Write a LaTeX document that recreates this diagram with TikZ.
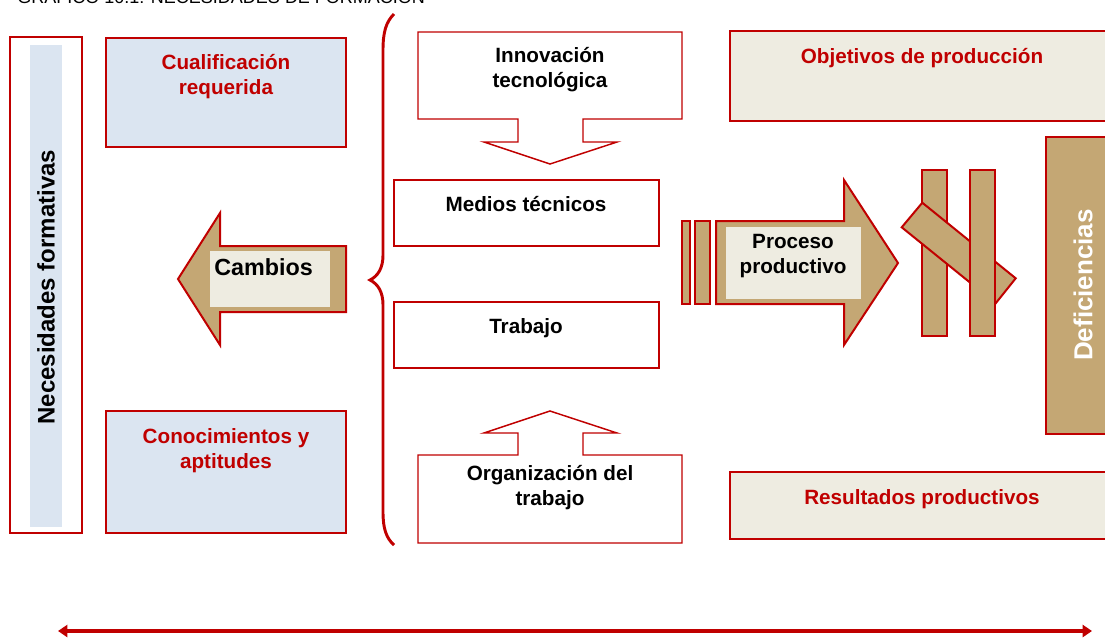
\documentclass[tikz,border=0pt]{standalone}
\usepackage{fontspec}
\setmainfont{Liberation Sans}
\usetikzlibrary{arrows.meta, fit}
\definecolor{bRed}{HTML}{C00000}
\definecolor{cBlue}{HTML}{DBE5F1}
\definecolor{cBeige}{HTML}{EEECE1}
\definecolor{cTan}{HTML}{C4A774}
\tikzset{
  box/.style={draw=bRed, line width=1.5pt, inner sep=0pt},
  bluebox/.style={box, fill=cBlue},
  beigebox/.style={box, fill=cBeige},
  whitebox/.style={box, fill=white, line width=1.1pt},
  tanshape/.style={fill=cTan, draw=bRed, line width=1.5pt},
  callout/.style={fill=white, draw=bRed, line width=1.1pt},
  redlbl/.style={font=\fontsize{15.5}{18.75}\selectfont\bfseries, text=bRed, align=center, inner sep=0pt},
  blklbl/.style={font=\fontsize{15.5}{18.75}\selectfont\bfseries, align=center, inner sep=0pt},
  sidelbl/.style={font=\fontsize{18}{20}\selectfont\bfseries, rotate=90, inner sep=0pt},
  arr/.style={{Triangle[length=7pt,width=9pt]}-{Triangle[length=7pt,width=9pt]}, draw=bRed, line width=3pt},
}

\begin{document}
\begin{tikzpicture}[x=0.75pt, y=-0.75pt]
\useasboundingbox (0,0) rectangle (1105,637);

% Caption (cut at the top)
\node[anchor=base west, inner sep=0pt, font=\fontsize{13.5}{15}\selectfont] (title) at (17,3)
  {GRÁFICO 10.1: NECESIDADES DE FORMACIÓN};

% Left column
\node[box, fill=white, fit={(10,37) (82,533)}] (nec) {};
\node[fill=cBlue, inner sep=0pt, fit={(30,45) (62,527)}] (necbg) {};
\node[sidelbl] (necT) at (46,287) {Necesidades formativas};

\node[bluebox, fit={(106,38) (346,147)}] (cual) {};
\node[redlbl, anchor=base] (cualT) at (226,94) {Cualificación\\requerida};
\node[bluebox, fit={(106,411) (346,533)}] (cono) {};
\node[redlbl, anchor=base] (conoT) at (226,468) {Conocimientos y\\aptitudes};

% Cambios arrow
\draw[tanshape] (178,279) -- (220,213) -- (220,246) -- (346,246) -- (346,312)
  -- (220,312) -- (220,345) -- cycle;
\node[fill=cBeige, inner sep=0pt, fit={(210,251) (330,307)}] (cambbg) {};
\node[anchor=base west, inner sep=0pt, font=\fontsize{17.5}{20}\selectfont\bfseries] (cambT) at (214,275) {Cambios};

% Brace
\draw[bRed, line width=2.2pt] (394,14) .. controls (386,22) and (383,32) .. (383,50)
  -- (383,255) .. controls (383,268) and (378,276) .. (370,280)
  .. controls (378,284) and (383,292) .. (383,305)
  -- (383,512) .. controls (383,528) and (386,538) .. (394,545);

% Middle column
\draw[callout] (418,32) -- (682,32) -- (682,119) -- (583,119) -- (583,142) -- (617,142)
  -- (550,164) -- (484,142) -- (518,142) -- (518,119) -- (418,119) -- cycle;
\node[blklbl, anchor=base] (innoT) at (550,87) {Innovación\\tecnológica};

\node[whitebox, fit={(394,180) (659,246)}] (medi) {};
\node[blklbl, anchor=base] (mediT) at (526,211) {Medios técnicos};

\node[whitebox, fit={(394,302) (659,368)}] (trab) {};
\node[blklbl, anchor=base] (trabT) at (526,333) {Trabajo};

\draw[callout] (418,543) -- (682,543) -- (682,455) -- (583,455) -- (583,433) -- (617,433)
  -- (550,411) -- (484,433) -- (518,433) -- (518,455) -- (418,455) -- cycle;
\node[blklbl, anchor=base] (orgaT) at (550,505) {Organización del\\trabajo};

% Right column
\node[beigebox, fit={(730,31) (1115,121)}] (obje) {};
\node[redlbl, anchor=base] (objeT) at (922,63) {Objetivos de producción};
\node[beigebox, fit={(730,472) (1115,539)}] (resu) {};
\node[redlbl, anchor=base] (resuT) at (922,504) {Resultados productivos};

% Proceso productivo arrow
\node[tanshape, inner sep=0pt, fit={(682,221) (690,304)}] (bar1) {};
\node[tanshape, inner sep=0pt, fit={(695,221) (710,304)}] (bar2) {};
\draw[tanshape] (716,221) -- (844,221) -- (844,180) -- (898,263) -- (844,345)
  -- (844,304) -- (716,304) -- cycle;
\node[fill=cBeige, inner sep=0pt, fit={(726,227) (861,299)}] (procbg) {};
\node[blklbl, anchor=base] (procT) at (793,273) {Proceso\\productivo};

% Blocked path
\node[tanshape, inner sep=0pt, fit={(922,170) (947,336)}] (stopA) {};
\draw[tanshape] (922.3,202.7) -- (1015.7,278.3) -- (995.7,303.3) -- (901.7,227.3) -- cycle;
\node[tanshape, inner sep=0pt, fit={(970,170) (995,336)}] (stopB) {};

\node[tanshape, inner sep=0pt, fit={(1046,137) (1115,434)}] (defi) {};
\node[sidelbl, text=white, font=\fontsize{19.5}{22}\selectfont\bfseries] (defiT) at (1083,285) {Deficiencias};

% Bottom double arrow
\coordinate (lineL) at (58,631);
\coordinate (lineR) at (1092,631);
\draw[arr] (lineL) -- (lineR);

\end{tikzpicture}
\end{document}
